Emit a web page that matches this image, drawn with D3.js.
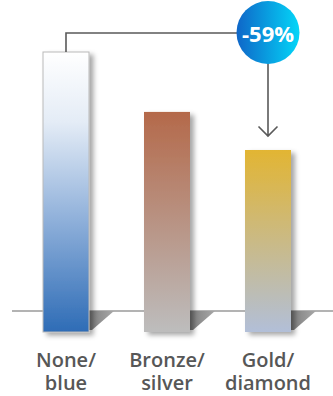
<!DOCTYPE html>
<html>
<head>
<meta charset="utf-8">
<script src="https://cdn.jsdelivr.net/npm/d3@7"></script>
<style>
  html, body { margin: 0; padding: 0; background: #ffffff; }
  svg { display: block; }
</style>
</head>
<body>
<script>
// Tier categories (two-line labels) and indexed values
const categories = ["None/blue", "Bronze/silver", "Gold/diamond"];
const labelLines = [["None/", "blue"], ["Bronze/", "silver"], ["Gold/", "diamond"]];
const values = [100, 78.6, 65];
const changeLabel = "-59%";
// Gradient stops per bar: top colour, bottom colour
const topColors = ["#ffffff", "#b4694a", "#e2b533"];
const bottomColors = ["#2e6cb6", "#bdbdbd", "#b2bfd8"];

const W = 333, H = 396;
const svg = d3.select("body").append("svg").attr("width", W).attr("height", H);
const defs = svg.append("defs");

const x = d3.scaleBand().domain(categories).range([12.7, 321.3]).paddingInner(0.5446).paddingOuter(0.3);
const floorY = 332;   // bar bottoms
const baseY = 311;    // horizon line
const y = d3.scaleLinear().domain([0, 100]).range([floorY, 52]);

// gradients
categories.forEach((c, i) => {
  const g = defs.append("linearGradient").attr("id", "g" + i)
    .attr("x1", 0).attr("y1", 0).attr("x2", 0).attr("y2", 1);
  if (i === 0) {
    g.append("stop").attr("offset", 0).attr("stop-color", "#ffffff");
    g.append("stop").attr("offset", 0.25).attr("stop-color", "#e4ecf6");
    g.append("stop").attr("offset", 0.6).attr("stop-color", "#8fb0da");
    g.append("stop").attr("offset", 1).attr("stop-color", bottomColors[i]);
  } else {
    g.append("stop").attr("offset", 0).attr("stop-color", topColors[i]);
    g.append("stop").attr("offset", 1).attr("stop-color", bottomColors[i]);
  }
});
const sg = defs.append("linearGradient").attr("id", "floorShade")
  .attr("x1", 0).attr("y1", 0).attr("x2", 1).attr("y2", 0);
sg.append("stop").attr("offset", 0).attr("stop-color", "#7d7d7d");
sg.append("stop").attr("offset", 1).attr("stop-color", "#a8a8a8");

const circ = defs.append("linearGradient").attr("id", "badge")
  .attr("x1", 0).attr("y1", 0).attr("x2", 1).attr("y2", 0);
circ.append("stop").attr("offset", 0).attr("stop-color", "#0f66c8");
circ.append("stop").attr("offset", 1).attr("stop-color", "#03d6f8");

const f = defs.append("filter").attr("id", "shadow")
  .attr("x", "-30%").attr("y", "-10%").attr("width", "170%").attr("height", "130%");
f.append("feDropShadow").attr("dx", 4).attr("dy", 3).attr("stdDeviation", 2.5)
  .attr("flood-color", "#000").attr("flood-opacity", 0.35);

// horizon line
svg.append("line").attr("x1", 12).attr("x2", W).attr("y1", baseY).attr("y2", baseY)
  .attr("stroke", "#9a9a9a").attr("stroke-width", 1.6);

// floor shading to the right of each bar
svg.append("g").selectAll("path").data(categories).join("path")
  .attr("d", c => {
    const r = x(c) + x.bandwidth();
    return `M${r},${baseY}L${r + 25},${baseY}L${r + 3},${floorY - 2}L${r},${floorY - 2}Z`;
  })
  .attr("fill", "url(#floorShade)");

// bars
svg.append("g").selectAll("rect").data(values).join("rect")
  .attr("x", (d, i) => x(categories[i]))
  .attr("y", d => y(d))
  .attr("width", x.bandwidth())
  .attr("height", d => floorY - y(d))
  .attr("fill", (d, i) => `url(#g${i})`)
  .attr("stroke", (d, i) => i === 0 ? "#b9b9b9" : "none")
  .attr("stroke-width", 1)
  .attr("filter", "url(#shadow)");

// category labels, two lines each
const labels = svg.append("g").attr("font-family", "'Open Sans', sans-serif")
  .attr("font-weight", 600).attr("font-size", 20).attr("fill", "#575757")
  .attr("text-anchor", "middle");
labelLines.forEach((lines, i) => {
  const cx = x(categories[i]) + x.bandwidth() / 2;
  const t = labels.append("text").attr("x", cx).attr("y", 367);
  lines.forEach((s, j) => {
    t.append("tspan").attr("x", cx).attr("dy", j === 0 ? 0 : 23).text(s);
  });
});

// connector from first bar to badge, then arrow down to third bar
const cx0 = x(categories[0]) + x.bandwidth() / 2;
const cx2 = x(categories[2]) + x.bandwidth() / 2;
const badgeY = 32.5, badgeR = 31.5;
svg.append("path")
  .attr("d", `M${cx0},${y(values[0])}V33H${cx2}`)
  .attr("fill", "none").attr("stroke", "#5a5a5a").attr("stroke-width", 1.6);
const arrowEnd = y(values[2]) - 14;
svg.append("path")
  .attr("d", `M${cx2},${badgeY}V${arrowEnd}M${cx2 - 9.5},${arrowEnd - 9.5}L${cx2},${arrowEnd}L${cx2 + 9.5},${arrowEnd - 9.5}`)
  .attr("fill", "none").attr("stroke", "#5a5a5a").attr("stroke-width", 1.6);

// badge
svg.append("circle").attr("cx", cx2).attr("cy", badgeY).attr("r", badgeR)
  .attr("fill", "url(#badge)");
svg.append("text").attr("x", cx2).attr("y", 41.5)
  .attr("text-anchor", "middle").attr("font-family", "'Open Sans', sans-serif")
  .attr("font-weight", 700).attr("font-size", 22).attr("fill", "#ffffff")
  .text(changeLabel);
</script>
</body>
</html>
